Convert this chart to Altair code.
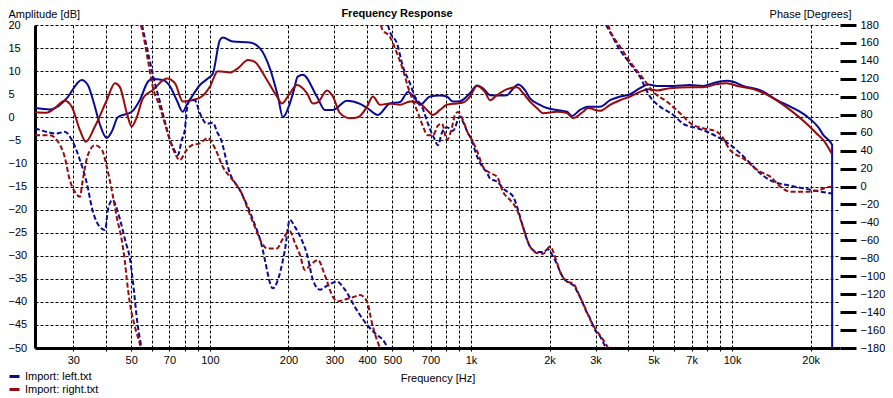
import altair as alt
import pandas as pd

BLUE = "#0a0a9a"
RED = "#9a0a0a"
FONT = "Liberation Sans"

chart_title = "Frequency Response"
series_names = ["Import: left.txt", "Import: right.txt"]

# ---- amplitude (solid lines, left axis, dB) ----
left_amp_f = [21.4, 24.4, 25.9, 28.3, 32.3, 34.1, 36.0, 37.9, 40.3, 42.2, 44.4, 50.2, 53.9, 57.9, 60.0,
              66.1, 70.2, 74.7, 78.8, 81.6, 86.1, 91.6, 98.2, 102.7, 109.2, 112.1, 122.5, 142.3, 155.4,
              169.8, 182.3, 190.5, 202.5, 210, 217, 227, 257, 276, 296, 335, 376, 403, 440, 489, 535,
              574, 610, 638, 697, 761, 809, 853, 908, 991, 1054, 1112, 1183, 1291, 1374, 1436, 1514,
              1610, 1683, 1838, 1955, 2135, 2333, 2438, 2616, 2806, 3120, 3409, 3724, 4067, 4441, 4766,
              5160, 5942, 6905, 7742, 8457, 9571, 10090, 11020, 12800, 14870, 17130, 19210, 21540,
              22330, 24160, 24170]
left_amp_db = [2.0, 1.7, 2.2, 4.1, 8.1, 7.0, 3.0, -1.5, -4.5, -3.0, 0.0, 1.2, 3.7, 7.7, 8.3,
               8.1, 6.8, 3.7, 1.2, 2.7, 4.8, 7.0, 8.4, 9.5, 16.7, 17.3, 16.4, 16.2, 15.0,
               10.6, 4.5, 0.0, 3.0, 6.0, 8.8, 9.2, 4.5, 1.6, 1.6, 3.6, 2.9, 1.9, 0.5, 3.0, 3.3,
               5.5, 4.1, 2.7, 4.5, 4.7, 4.5, 3.4, 3.5, 5.2, 6.9, 6.3, 4.8, 4.7, 4.8, 5.9, 7.1,
               5.9, 4.1, 2.7, 2.0, 1.6, 1.2, 0.3, 1.6, 2.3, 2.3, 3.7, 4.5, 5.0, 6.3, 7.1,
               6.8, 6.8, 7.0, 6.8, 7.4, 7.9, 7.7, 6.8, 5.9, 3.7, 2.0, 0.3, -2.4,
               -3.8, -6.0, -50.0]

right_amp_f = [21.4, 23.7, 25.5, 27.8, 29.6, 31.8, 33.5, 36.3, 40.3, 43.3, 45.2, 48.1, 50.2, 52.5, 55.4,
               60.5, 68.4, 73.5, 78.8, 85.3, 93.2, 100, 107.3, 119.3, 128, 140, 148.7, 162.6, 180.7,
               188.8, 202.5, 215.5, 235.5, 248, 259.5, 281, 296, 315, 344, 369, 400, 421, 449, 489,
               535, 584, 638, 678, 714, 761, 809, 884, 932, 991, 1054, 1131, 1183, 1259, 1374, 1501,
               1585, 1683, 1790, 1888, 2135, 2333, 2460, 2688, 2806, 3120, 3409, 3724, 4067, 4441,
               4766, 5160, 5780, 6905, 7742, 8760, 9571, 10460, 12060, 14010, 16680, 19210, 21050,
               22330, 24160]
right_amp_db = [1.1, 1.0, 2.0, 3.6, 2.3, -2.8, -5.3, -2.0, 3.7, 7.4, 6.6, 0.9, -2.0, 0.0, 4.1,
                5.9, 8.4, 7.4, 3.4, 3.7, 4.5, 6.6, 10.0, 9.7, 10.6, 12.4, 12.0, 8.8, 4.5,
                3.0, 5.2, 7.0, 5.2, 3.0, 3.3, 5.8, 4.5, 0.9, -0.2, 0.0, 2.3, 4.5, 2.7, 3.0,
                2.7, 3.4, 3.0, 1.6, 0.5, 1.6, 2.7, 3.0, 3.2, 4.5, 6.8, 5.5, 3.7, 4.8, 6.1, 6.5,
                5.2, 3.4, 2.0, 0.9, 1.2, 0.9, -0.2, 1.2, 2.0, 1.4, 2.7, 3.7, 4.5, 5.5,
                6.1, 5.8, 6.3, 6.5, 6.5, 7.2, 7.4, 6.8, 6.1, 4.5, 1.6, -1.3, -3.5,
                -4.9, -8.0]

# ---- phase (dashed lines, right axis, degrees), wrapped segments ----
left_phase_f = [
    [21.4, 24.4, 25.9, 27.8, 29.6, 31.8, 33.8, 35.5, 37.9, 39.7, 40.7, 42.4, 44.8, 47.7, 49.4, 50.7, 53.0, 54.8],
    [55.0, 58.9, 61.5, 64.3, 67.2, 70.3, 72.2, 75.4, 78.1, 80.2, 81.6, 83.8, 87.6, 91.6, 97.4, 102.7, 107.3,
     109.2, 119.3, 130.3, 146.2, 159.6, 162.5, 174.3, 182.3, 190.5, 193.8, 202.5, 211.7, 225.2, 235.3, 248.1,
     264.0, 283.2, 306.6, 329.0, 365.8, 399.5, 436.4, 460.1, 476.6, 480.8],
    [480.8, 489.4, 520.7, 549, 583.9, 610.3, 649.3, 684.4, 708.9, 727.9, 747.4, 774.3, 809, 853, 907.7, 932,
     975.7, 1008, 1034, 1084, 1153, 1183, 1258, 1350, 1449, 1514, 1582, 1683, 1790, 1888, 1972, 2062, 2154,
     2193, 2333, 2460, 2616, 2782, 2858, 2986, 3120, 3262, 3290],
    [3290, 3350, 3724, 4067, 4441, 4851, 5298, 5942, 6492, 7341, 8020, 8760, 10090, 11414, 12800, 14360,
     16240, 18710, 21180, 23750, 24160],
]
left_phase_deg = [
    [65, 60, 59, 61, 52, 29.5, 3.6, -26, -45, -48.5, -26, -15, -32, -63, -80, -105, -156, -180],
    [180, 140, 116, 95, 73, 52, 44, 35, 52, 63, 85, 96, 96, 81.6, 70, 71, 59,
     55.5, 14.7, -4, -37, -71, -82, -113.5, -104, -82, -71, -37, -45, -60, -75, -104,
     -115, -110, -106, -115, -138, -154, -165.5, -171, -178, -180],
    [180, 172.5, 159.6, 133.5, 115, 100, 89, 70, 59, 52, 46, 60, 66, 62, 78, 72,
     59, 52, 41, 26, 15, 9, 5.4, -4, -11, -26, -45, -67, -73, -73, -70, -78, -89,
     -95, -106, -110, -123, -141, -147, -160, -167, -178, -180],
    [180, 176, 152, 137, 122, 100, 89, 80, 70, 65, 61, 55.5, 44, 29.5, 14.7, 5.4,
     1.7, -2, -5, -7.6, -8],
]
right_phase_f = [
    [21.4, 24.4, 25.9, 27.8, 29.1, 30.4, 31.8, 32.6, 34.1, 36.3, 38.6, 40.3, 42.1, 44.0, 46.0, 47.2, 48.1,
     49.4, 51.6, 53.9, 54.4],
    [54.4, 55.4, 57.9, 60.5, 64.3, 68.4, 70.3, 73.5, 76.7, 81.6, 85.3, 91.6, 98.2, 104.5, 112.1, 122.5, 132.6,
     140, 148.7, 158.2, 165.4, 180.7, 190.5, 202.5, 211.7, 221.2, 231.2, 241.6, 259.5, 275.8, 296, 309.3, 329,
     353.1, 375.6, 399.5, 417.6, 436.4, 448, 452],
    [452, 456, 489, 520.7, 549, 573.7, 599.5, 626.5, 654.9, 684.4, 715, 747.4, 774.3, 809, 845.8, 868.5,
     891.8, 932, 975.7, 1008, 1054, 1112, 1183, 1258, 1326, 1411, 1501, 1582, 1683, 1806, 1888, 2008, 2135,
     2193, 2333, 2460, 2616, 2782, 2858, 2986, 3120, 3262, 3350],
    [3350, 3409, 3724, 4067, 4560, 4982, 5636, 6321, 7090, 7742, 8760, 9157, 9825, 11020, 12800, 14010,
     15280, 16680, 19210, 21540, 23120, 24160],
]
right_phase_deg = [
    [57, 57, 52, 33, 7, -6, -11.4, 7, 35, 46, 41, 22, -4, -34, -60, -82, -104, -130, -156, -175, -180],
    [180, 171, 141, 111, 89, 63, 52, 37, 29.5, 41, 46, 48, 54, 43, 22, 7, -8,
     -26, -45, -63, -69, -69, -58, -50, -63, -76, -93, -88, -82, -99, -123, -128, -126,
     -123.5, -121, -128, -152, -171, -179, -180],
    [180, 176, 167, 148.5, 130, 111, 96, 82, 67, 57, 57, 68, 70, 52, 66, 80,
     83, 74, 59, 52, 40, 22, 15, 11, -6, -15, -26, -45, -67, -74.5, -75, -67, -85,
     -95, -106, -108, -123, -140, -148, -158, -166, -174, -180],
    [180, 174, 156, 139, 120.6, 105.6, 94.5, 81.6, 68.5, 65, 61, 55.5, 40.7, 31.4, 16.5, 11,
     0, -5.8, -5.8, -4, -1, 0],
]

grid_freqs = [30, 40, 50, 60, 70, 80, 90, 100, 200, 300, 400, 500, 600, 700, 800, 900,
              1000, 2000, 3000, 4000, 5000, 6000, 7000, 8000, 9000, 10000, 20000]
label_freqs = [30, 50, 70, 100, 200, 300, 400, 500, 700, 1000, 2000, 3000, 5000, 7000, 10000, 20000]
db_ticks = list(range(-50, 25, 5))
deg_ticks = list(range(-180, 181, 20))

# ---- build tables ----
amp_rows = []
for name, fs, vs in [(series_names[0], left_amp_f, left_amp_db), (series_names[1], right_amp_f, right_amp_db)]:
    assert len(fs) == len(vs)
    for i, (f, v) in enumerate(zip(fs, vs)):
        amp_rows.append({"freq": f, "db": v, "series": name, "idx": i})
amp_df = pd.DataFrame(amp_rows)

ph_rows = []
for name, segs_f, segs_v in [(series_names[0], left_phase_f, left_phase_deg),
                             (series_names[1], right_phase_f, right_phase_deg)]:
    for s, (fs, vs) in enumerate(zip(segs_f, segs_v)):
        assert len(fs) == len(vs)
        for i, (f, v) in enumerate(zip(fs, vs)):
            ph_rows.append({"freq": f, "deg": v, "series": name, "seg": f"{name}-{s}", "idx": i})
ph_df = pd.DataFrame(ph_rows)

label_list = ",".join(str(v) for v in label_freqs)
label_expr = (f"indexof([{label_list}], datum.value) >= 0 ? "
              "(datum.value >= 1000 ? (datum.value / 1000) + 'k' : '' + datum.value) : ''")

x_enc = alt.X(
    "freq:Q",
    scale=alt.Scale(type="log", domain=[21.4, 25900], nice=False),
    axis=alt.Axis(
        values=grid_freqs, labelExpr=label_expr, grid=True, gridColor="black", gridDash=[3, 2],
        gridOpacity=1, gridWidth=1, domainColor="black", domainWidth=3, tickColor="black",
        tickSize=5, tickDash=[3, 2], tickWidth=1, labelFontSize=11, labelColor="black",
        labelPadding=1, labelFont=FONT, labelOverlap=False, labelFlush=False,
        title="Frequency [Hz]", titleFont=FONT, titleFontSize=11, titleFontWeight="normal",
        titleColor="black", titlePadding=7,
    ),
)

color_enc = alt.Color(
    "series:N",
    scale=alt.Scale(domain=series_names, range=[BLUE, RED]),
    legend=alt.Legend(
        orient="none", legendX=-27, legendY=345, title=None, symbolType="stroke",
        symbolStrokeWidth=3, symbolSize=100, symbolDash=[1, 0], labelFont=FONT, labelFontSize=11,
        labelColor="black", rowPadding=0, labelOffset=4, padding=0,
    ),
)

amp = alt.Chart(amp_df).mark_line(strokeWidth=2, clip=True, interpolate="monotone").encode(
    x=x_enc,
    y=alt.Y(
        "db:Q",
        scale=alt.Scale(domain=[-50, 20], nice=False, zero=False),
        axis=alt.Axis(
            orient="left", values=db_ticks, grid=True, gridColor="black", gridDash=[3, 2],
            gridOpacity=1, gridWidth=1, ticks=False, tickSize=0, domainColor="black", domainWidth=3,
            labelAlign="left", labelPadding=27, labelFontSize=11, labelColor="black", labelFont=FONT,
            labelOverlap=False, labelFlush=False,
            title="Amplitude [dB]", titleAngle=0, titleAlign="left", titleBaseline="top",
            titleX=-27, titleY=-17, titleFont=FONT, titleFontSize=11, titleFontWeight="normal",
            titleColor="black",
        ),
    ),
    color=color_enc,
    order=alt.Order("idx:Q"),
)

phase = alt.Chart(ph_df).mark_line(
    strokeWidth=2, strokeDash=[5, 2.5], clip=True, interpolate="monotone"
).encode(
    x=x_enc,
    y=alt.Y(
        "deg:Q",
        scale=alt.Scale(domain=[-180, 180], nice=False, zero=False),
        axis=alt.Axis(
            orient="right", values=deg_ticks, grid=False, domain=False, tickColor="black",
            tickWidth=3, tickSize=16, labelPadding=4, labelAlign="left", labelFontSize=11,
            labelColor="black", labelFont=FONT, labelOverlap=False, labelFlush=False,
            title="Phase [Degrees]", titleAngle=0, titleAlign="right", titleBaseline="top",
            titleX=11, titleY=-17, titleFont=FONT, titleFontSize=11, titleFontWeight="normal",
            titleColor="black",
        ),
    ),
    color=alt.Color("series:N", scale=alt.Scale(domain=series_names, range=[BLUE, RED]), legend=None),
    detail="seg:N",
    order=alt.Order("idx:Q"),
)

title_layer = alt.Chart(pd.DataFrame({"t": [chart_title]})).mark_text(
    font=FONT, fontSize=11, fontWeight="bold", color="black", align="center", baseline="middle"
).encode(text="t:N", x=alt.value(362), y=alt.value(-11))

chart = (
    alt.layer(amp, phase, title_layer)
    .resolve_scale(y="independent")
    .properties(
        width=805,
        height=323,
        autosize=alt.AutoSizeParams(type="none"),
        padding={"left": 27, "top": 17, "right": 45, "bottom": 50},
        background="white",
    )
    .configure_view(strokeWidth=0)
)

chart.save("out.html", embed_options={"renderer": "svg", "actions": False})
